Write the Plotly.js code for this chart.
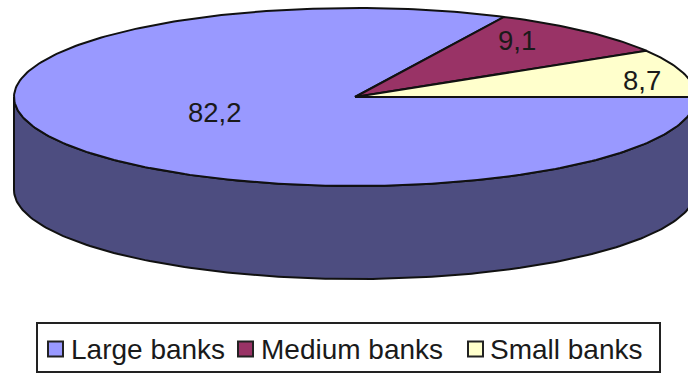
<!DOCTYPE html>
<html>
<head>
<meta charset="utf-8">
<script src="https://cdn.plot.ly/plotly-3.0.1.min.js"></script>
<style>html,body{margin:0;padding:0;background:#fff}#chart{width:688px;height:373px}</style>
</head>
<body>
<div id="chart"></div>
<script>
// Share of banks by size, drawn as a tilted pie with a side wall
const categories = ['Large banks', 'Medium banks', 'Small banks'];
const values = [82.2, 9.1, 8.7];
const sliceColors = ['#9999FF', '#993366', '#FFFFCC'];
const wallColor = '#4D4D80';

// Pie geometry in axis units (the axes span the page one unit per pixel)
const cx = 355, cy = 97, rx = 341, ry = 89, depth = 93;
const rim = deg => [cx + rx * Math.cos(deg * Math.PI / 180), cy - ry * Math.sin(deg * Math.PI / 180)];

function arc(from, to) {
  const pts = [], n = Math.max(2, Math.ceil(Math.abs(to - from)));
  for (let i = 0; i <= n; i++) pts.push(rim(from + (to - from) * i / n));
  return pts;
}

// Slices run counter-clockwise from the 3 o'clock position, last category first
const total = values.reduce((a, b) => a + b, 0);
const spans = {};
let angle = 0;
for (let i = categories.length - 1; i >= 0; i--) {
  const sweep = values[i] / total * 360;
  spans[i] = [angle, angle + sweep];
  angle += sweep;
}

const traces = [];
const line = {color: '#111', width: 2};

// Front wall below the visible half of the rim
const front = arc(180, 360);
const wallPts = front.concat(front.slice().reverse().map(p => [p[0], p[1] + depth]));
wallPts.push(wallPts[0]);
traces.push({
  type: 'scatter', mode: 'lines', fill: 'toself', fillcolor: wallColor, line,
  x: wallPts.map(p => p[0]), y: wallPts.map(p => p[1]),
  hoverinfo: 'skip', showlegend: false
});

// Top face
categories.forEach((name, i) => {
  const pts = [[cx, cy]].concat(arc(spans[i][0], spans[i][1]));
  pts.push([cx, cy]);
  traces.push({
    type: 'scatter', mode: 'lines', fill: 'toself', fillcolor: sliceColors[i], line,
    x: pts.map(p => p[0]), y: pts.map(p => p[1]),
    name, hoverinfo: 'name', showlegend: false
  });
});

const textColor = '#1a1a1a';
const fontFamily = '"Liberation Sans", Arial, sans-serif';
const labelSpots = [[215, 112], [517, 40], [642, 80]];
const annotations = values.map((v, i) => ({
  x: labelSpots[i][0], y: labelSpots[i][1], xref: 'x', yref: 'y',
  text: v.toFixed(1).replace('.', ','), showarrow: false,
  font: {family: fontFamily, size: 27.5, color: textColor}
}));

// Legend strip along the bottom edge
const box = {x0: 37, x1: 660, y0: 323, y1: 372};
const keyLeft = [48, 238, 468], keySize = 15, keyY = 349;
const textLeft = [72, 262, 491];
const shapes = [{
  type: 'rect', xref: 'x', yref: 'y', ...box,
  line: {color: '#222', width: 2}, fillcolor: '#fff', layer: 'below'
}];
categories.forEach((name, i) => {
  shapes.push({
    type: 'rect', xref: 'x', yref: 'y',
    x0: keyLeft[i], x1: keyLeft[i] + keySize, y0: keyY - keySize / 2, y1: keyY + keySize / 2,
    fillcolor: sliceColors[i], line: {color: '#222', width: 2}
  });
  annotations.push({
    x: textLeft[i], y: keyY, xref: 'x', yref: 'y', xanchor: 'left', yanchor: 'middle',
    text: name, showarrow: false, xshift: -3,
    font: {family: fontFamily, size: 28, color: textColor}
  });
});

const hidden = {visible: false, fixedrange: true};
Plotly.newPlot('chart', traces, {
  width: 688, height: 373,
  margin: {l: 0, r: 0, t: 0, b: 0},
  paper_bgcolor: '#fff', plot_bgcolor: '#fff',
  xaxis: {...hidden, range: [0, 688]},
  yaxis: {...hidden, range: [373, 0]},
  shapes, annotations
}, {displayModeBar: false, staticPlot: true});
</script>
</body>
</html>
